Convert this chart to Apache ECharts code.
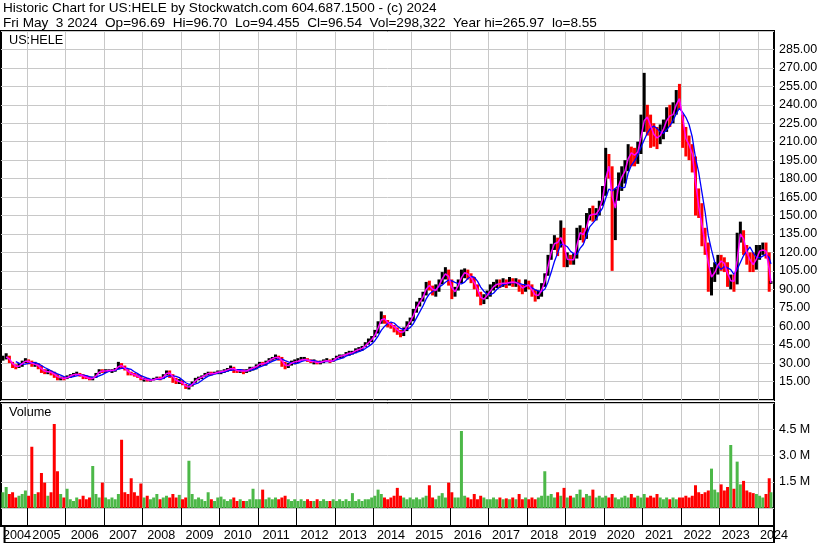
<!DOCTYPE html>
<html><head><meta charset="utf-8">
<script src="https://cdn.jsdelivr.net/npm/echarts@6/dist/echarts.min.js"></script>
<style>html,body{margin:0;padding:0;background:#fff}#c{width:830px;height:543px}</style>
</head><body><div id="c"></div>
<script>
// ---------------- DATA ----------------
const symbol = 'US:HELE';
const firstYear = 2004, firstMonth = 5;      // monthly bars, May 2004 .. May 2024
const lastBarDays = 3;                        // last bar covers May 1-3, 2024 only
const quote = { date: 'Fri May  3 2024', op: '96.69', hi: '96.70', lo: '94.455', cl: '96.54', vol: '298,322', yearHi: '265.97', yearLo: '8.55' };

const closes = [
  34, 36, 31, 28, 27, 28, 31, 32,                          // 2004 (May-Dec)
  31, 29, 29, 27, 24, 23, 23, 22, 20, 18, 18, 17,          // 2005
  19, 20, 21, 21, 20, 19, 18, 17, 18, 21, 24, 23,          // 2006
  24, 24, 24, 25, 29, 27, 25, 22, 21, 20, 19, 17,          // 2007
  17, 16, 16, 17, 18, 17, 20, 23, 21, 17, 15, 15,          // 2008
  13, 10, 11, 14, 17, 18, 19, 21, 22, 21, 22, 23,          // 2009
  23, 24, 25, 26, 25, 23, 24, 23, 24, 26, 26, 28,          // 2010
  30, 29, 31, 33, 34, 35, 34, 30, 27, 29, 31, 31,          // 2011
  32, 33, 33, 32, 31, 31, 30, 31, 32, 32, 31, 33,          // 2012
  35, 36, 36, 38, 38, 39, 41, 41, 43, 45, 48, 50,          // 2013
  55, 62, 68, 64, 62, 61, 58, 56, 54, 57, 62, 65,          // 2014
  72, 78, 81, 86, 94, 92, 88, 90, 96, 101, 104, 97,        // 2015
  86, 90, 96, 103, 104, 101, 98, 93, 87, 80, 84, 86,       // 2016
  91, 93, 95, 94, 96, 94, 97, 95, 96, 92, 90, 95,          // 2017
  92, 87, 84, 86, 92, 101, 116, 124, 130, 126, 138, 113,   // 2018
  116, 112, 116, 135, 137, 132, 148, 152, 150, 152, 158, 168, // 2019
  192, 188, 144, 168, 180, 182, 190, 202, 200, 198, 205, 222, // 2020
  232, 228, 218, 214, 212, 218, 222, 232, 230, 234, 246, 244, // 2021
  215, 210, 205, 195, 160, 155, 130, 125, 98, 102, 105, 114,  // 2022
  112, 110, 96, 98, 95, 132, 138, 124, 116, 112, 108, 121,    // 2023
  121, 123, 119, 94, 96.54                                    // 2024 (Jan-May)
];
const highs = [
  36, 38, 36, 31, 29, 30, 32, 34,
  33, 32, 31, 30, 28, 25, 25, 24, 23, 21, 19, 19,
  20, 21, 22, 23, 22, 21, 20, 19, 19, 22, 25, 25,
  25, 25, 25, 26, 31, 30, 28, 25, 23, 22, 21, 20,
  18, 18, 17, 18, 19, 19, 21, 24, 24, 21, 18, 17,
  16, 13, 12, 15, 18, 19, 20, 22, 23, 23, 23, 24,
  24, 25, 26, 28, 27, 25, 25, 25, 25, 27, 27, 29,
  31, 31, 32, 34, 35, 37, 36, 35, 31, 30, 32, 33,
  34, 35, 35, 34, 33, 33, 32, 32, 33, 34, 33, 34,
  36, 37, 37, 39, 40, 40, 42, 43, 44, 47, 50, 52,
  57, 64, 72, 69, 65, 63, 61, 59, 57, 59, 64, 67,
  74, 80, 83, 88, 96, 97, 93, 94, 98, 104, 108, 106,
  98, 92, 98, 106, 107, 106, 103, 100, 94, 88, 86, 89,
  94, 96, 98, 98, 99, 98, 100, 99, 99, 98, 94, 98,
  97, 94, 90, 89, 95, 103, 118, 127, 134, 132, 146, 140,
  120, 118, 119, 140, 142, 140, 152, 156, 158, 156, 162, 174,
  205, 200, 190, 172, 185, 190, 195, 208, 206, 205, 210, 232,
  265.97, 240, 232, 225, 222, 224, 228, 238, 240, 242, 252, 257,
  232, 222, 215, 208, 198, 172, 160, 140, 128, 108, 112, 118,
  118, 116, 112, 102, 102, 136, 145, 138, 126, 120, 120, 126,
  126, 128, 128, 120, 96.70
];
const lows = [
  32, 33, 30, 26, 25, 26, 27, 30,
  29, 27, 27, 25, 22, 21, 21, 20, 18, 16, 16, 16,
  17, 18, 19, 20, 19, 17, 17, 16, 16, 18, 21, 22,
  22, 23, 22, 23, 25, 26, 24, 20, 20, 19, 18, 16,
  15, 15, 15, 16, 17, 16, 17, 20, 18, 14, 13, 13,
  12, 9, 8.55, 11, 14, 16, 17, 19, 20, 20, 21, 21,
  21, 22, 23, 24, 22, 22, 22, 21, 22, 23, 24, 25,
  27, 28, 28, 31, 32, 33, 32, 27, 25, 26, 28, 29,
  30, 32, 32, 31, 30, 29, 29, 29, 30, 31, 30, 31,
  33, 34, 34, 36, 36, 37, 38, 39, 40, 43, 45, 47,
  51, 54, 62, 62, 59, 58, 55, 53, 51, 52, 56, 61,
  64, 71, 76, 80, 85, 89, 85, 84, 88, 94, 98, 93,
  82, 84, 89, 95, 99, 98, 95, 90, 84, 77, 78, 82,
  84, 89, 91, 91, 92, 91, 93, 92, 92, 88, 86, 88,
  90, 84, 80, 82, 84, 92, 101, 114, 122, 117, 124, 108,
  108, 110, 110, 115, 130, 128, 131, 146, 145, 146, 150, 158,
  166, 180, 105, 130, 162, 170, 176, 186, 190, 190, 192, 200,
  218, 215, 205, 206, 204, 208, 212, 218, 222, 225, 232, 236,
  205, 198, 195, 185, 150, 148, 125, 118, 88, 85, 96, 102,
  105, 104, 92, 90, 88, 94, 128, 118, 110, 104, 104, 106,
  114, 118, 115, 88, 94.455
];
// volume, millions of shares
const volumes = [
  0.9, 1.2, 0.8, 0.9, 0.6, 0.7, 0.8, 1.0,
  0.7, 3.5, 0.8, 0.9, 2.0, 1.45, 0.7, 0.9, 4.8, 2.1, 0.8, 0.6,
  1.1, 0.5, 0.4, 0.6, 0.5, 0.7, 0.5, 0.6, 2.4, 0.8, 0.6, 1.45,
  0.6, 0.5, 0.6, 0.5, 0.8, 3.9, 0.9, 0.8, 1.7, 0.9, 0.7, 1.4,
  0.6, 0.7, 0.5, 0.6, 0.8, 0.5, 0.6, 0.7, 0.6, 0.8, 0.6, 0.75,
  0.5, 0.6, 2.7, 0.8, 0.5, 0.6, 0.5, 0.4, 0.9, 0.5, 0.4, 0.6,
  0.65, 0.5, 0.4, 0.5, 0.6, 0.4, 0.5, 0.4, 0.4, 0.5, 1.1, 0.5,
  0.5, 1.05, 0.5, 0.6, 0.5, 0.6, 0.5, 0.6, 0.7, 0.5, 0.4, 0.5,
  0.4, 0.5, 0.4, 0.5, 0.4, 0.4, 0.5, 0.4, 0.5, 0.4, 0.4, 0.5,
  0.4, 0.5, 0.4, 0.5, 0.4, 0.85, 0.4, 0.5, 0.4, 0.5, 0.5, 0.6,
  0.7, 1.05, 0.8, 0.6, 0.5, 0.6, 0.7, 1.15, 0.7, 0.6, 0.5, 0.6,
  0.5, 0.6, 0.5, 0.6, 0.7, 1.3, 0.6, 0.5, 0.7, 0.85, 0.6, 1.45,
  0.9, 0.6, 0.6, 4.4, 0.7, 0.6, 0.5, 0.8, 0.5, 0.7, 0.6, 0.5,
  0.5, 0.6, 0.5, 0.6, 0.5, 0.55, 0.5, 0.6, 0.5, 0.8, 0.5, 0.6,
  0.5, 0.6, 0.5, 0.6, 0.7, 2.1, 0.7, 0.8, 0.6, 0.9, 0.7, 1.15,
  0.6, 0.7, 0.6, 0.8, 1.05, 0.6, 0.8, 0.7, 1.05, 0.6, 0.7, 0.6,
  0.7, 0.6, 0.8, 0.6, 0.5, 0.6, 0.7, 0.6, 0.8, 0.6, 0.7, 0.6,
  0.8, 0.6, 0.7, 0.6, 0.8, 0.6, 0.5, 0.6, 0.5, 0.6, 0.5, 0.6,
  0.6, 0.7, 0.6, 0.7, 1.3, 0.9, 0.8, 0.9, 1.0, 2.25, 1.05, 0.9,
  1.35, 1.0, 1.2, 3.6, 1.1, 2.65, 1.35, 1.55, 1.0, 0.9, 0.85, 0.8,
  0.7, 0.6, 0.8, 1.7, 0.9
];
const yearBoundaries = [2005,2006,2007,2008,2009,2010,2011,2012,2013,2014,2015,2016,2017,2018,2019,2020,2021,2022,2023,2024];
const axisStart = 2004.324, axisEnd = 2024.416;
const priceMin = 0, priceMax = 300, priceStep = 15;
const volMin = 0, volMax = 6, volStep = 1.5;
const maShort = 2, maLong = 5;   // moving-average lengths (months)

// ---------------- BUILD ----------------
const n = closes.length;
const xs = [];
for (let i = 0; i < n; i++) {
  const mIdx = firstMonth - 1 + i;
  const y = firstYear + Math.floor(mIdx / 12), m = mIdx % 12;
  const frac = (i === n - 1) ? (lastBarDays / 2) / 31 : 0.5;
  xs.push(y + (m + frac) / 12);
}
const up = closes.map((c, i) => i === 0 ? 1 : (c >= closes[i - 1] ? 1 : 0));
function sma(len) {
  const out = [];
  for (let i = len - 1; i < n; i++) {
    let s = 0; for (let k = 0; k < len; k++) s += closes[i - k];
    out.push([xs[i], s / len]);
  }
  return out;
}
const FONT = 'Liberation Sans, Arial, sans-serif';
const GRID_GRAY = '#c8c8c8';
// year label anchors: text centred a little right of each year boundary
const labelShift = 0.416;
const labelVals = [axisStart + 0.325].concat(yearBoundaries.map(y => y + labelShift));

const baseX = (gridIndex, extra) => Object.assign({
  type: 'value', gridIndex, min: axisStart, max: axisEnd,
  axisLine: { show: false },
  axisTick: { show: false, customValues: yearBoundaries },
  axisLabel: { show: false },
  splitLine: { show: true, lineStyle: { color: GRID_GRAY, width: 1 } }
}, extra || {});
const hiddenY = (gridIndex) => ({ type: 'value', gridIndex, show: false, splitLine: { show: false } });

const chart = echarts.init(document.getElementById('c'), null, { renderer: 'canvas' });
chart.setOption({
  animation: false,
  backgroundColor: '#fff',
  textStyle: { fontFamily: FONT },
  title: [
    { text: 'Historic Chart for ' + symbol + ' by Stockwatch.com 604.687.1500 - (c) 2024\n' +
        quote.date + '  Op=' + quote.op + '  Hi=' + quote.hi + '  Lo=' + quote.lo + '  Cl=' + quote.cl +
        '  Vol=' + quote.vol + '  Year hi=' + quote.yearHi + '  lo=' + quote.yearLo,
      left: 3, top: 1, padding: 0,
      textStyle: { fontSize: 13.6, fontWeight: 'normal', color: '#000', fontFamily: FONT, lineHeight: 14.5 } },
    { text: symbol, left: 9, top: 34, padding: 0,
      textStyle: { fontSize: 12.7, fontWeight: 'normal', color: '#000', fontFamily: FONT } },
    { text: 'Volume', left: 9, top: 406, padding: 0,
      textStyle: { fontSize: 12.7, fontWeight: 'normal', color: '#000', fontFamily: FONT } }
  ],
  grid: [
    { left: 1, right: 56, top: 31, height: 369, show: true, borderColor: '#000', borderWidth: 2, backgroundColor: '#fff' },
    { left: 1, right: 56, top: 403, height: 105, show: true, borderColor: '#000', borderWidth: 2, backgroundColor: '#fff' },
    { left: 1, right: 56, top: 508, height: 18, show: true, borderColor: '#000', borderWidth: 2 },
    { left: 1, right: 56, top: 526, height: 30, show: true, borderColor: '#000', borderWidth: 2 }
  ],
  xAxis: [
    baseX(0),
    baseX(1),
    // tick row: black year separators (ticks at year boundaries, no text)
    baseX(2, {
      axisTick: { show: true, customValues: yearBoundaries, inside: true, length: 18, lineStyle: { color: '#000', width: 1 } },
      axisLabel: { show: true, customValues: yearBoundaries, formatter: () => '' },
      splitLine: { show: true, lineStyle: { color: '#000', width: 1 } }
    }),
    // label row: year names
    baseX(3, {
      position: 'top',
      splitLine: { show: false },
      axisTick: { show: false },
      axisLabel: { show: true, inside: true, customValues: labelVals, margin: 3, align: 'center', verticalAlign: 'top',
        showMinLabel: true, showMaxLabel: true, hideOverlap: false,
        fontSize: 12.6, color: '#000', fontFamily: FONT, formatter: v => String(Math.floor(v)) }
    })
  ],
  yAxis: [
    { type: 'value', gridIndex: 0, position: 'right', min: priceMin, max: priceMax, interval: priceStep,
      axisLine: { show: false }, axisTick: { show: false },
      axisLabel: { margin: 5, fontSize: 12.5, color: '#000', fontFamily: FONT, showMinLabel: false, showMaxLabel: false,
        formatter: v => v.toFixed(2) },
      splitLine: { show: true, lineStyle: { color: GRID_GRAY, width: 1 } } },
    { type: 'value', gridIndex: 1, position: 'right', min: volMin, max: volMax, interval: volStep,
      axisLine: { show: false }, axisTick: { show: false },
      axisLabel: { margin: 5, fontSize: 12.5, color: '#000', fontFamily: FONT, showMinLabel: false, showMaxLabel: false,
        formatter: v => v.toFixed(1) + ' M' },
      splitLine: { show: true, lineStyle: { color: GRID_GRAY, width: 1 } } },
    hiddenY(2),
    hiddenY(3)
  ],
  series: [
    { type: 'custom', xAxisIndex: 0, yAxisIndex: 0, clip: true,
      data: xs.map((x, i) => [x, lows[i], highs[i], up[i]]),
      encode: { x: 0, y: [1, 2] },
      renderItem: function (params, api) {
        const top = api.coord([api.value(0), api.value(2)]);
        const bot = api.coord([api.value(0), api.value(1)]);
        return { type: 'rect',
          shape: { x: top[0] - 1.5, y: top[1], width: 3, height: Math.max(1, bot[1] - top[1]) },
          style: { fill: api.value(3) ? '#000' : '#ff0000' } };
      } },
    { type: 'line', xAxisIndex: 0, yAxisIndex: 0, data: sma(maLong), showSymbol: false, symbol: 'none',
      lineStyle: { color: '#0000ff', width: 1.3 }, z: 3 },
    { type: 'line', xAxisIndex: 0, yAxisIndex: 0, data: sma(maShort), showSymbol: false, symbol: 'none',
      lineStyle: { color: '#ff00ff', width: 1.5 }, z: 4 },
    { type: 'bar', xAxisIndex: 1, yAxisIndex: 1, barWidth: 3,
      data: xs.map((x, i) => ({ value: [x, volumes[i]], itemStyle: { color: up[i] ? '#4cb848' : '#ff0000' } })) }
  ]
});
</script></body></html>
